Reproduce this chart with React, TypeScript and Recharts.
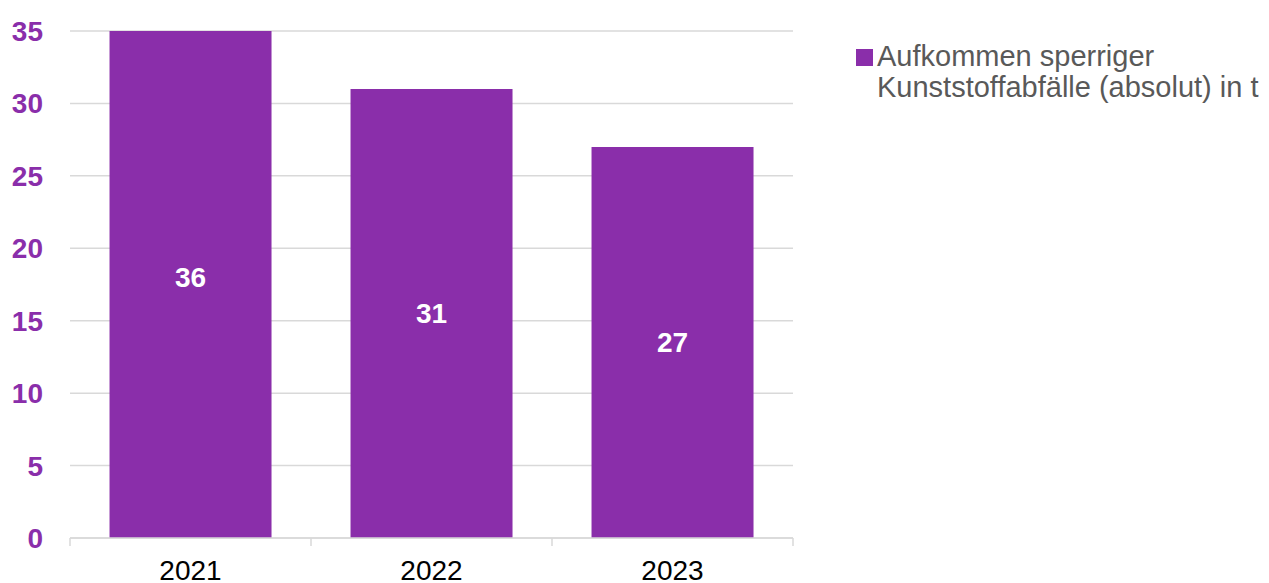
import React from 'react';
import { BarChart, Bar, XAxis, YAxis, CartesianGrid, LabelList } from 'recharts';

const categories = ['2021', '2022', '2023'];
const values = [36, 31, 27];
const yTicks = [0, 5, 10, 15, 20, 25, 30, 35];
const seriesName = 'Aufkommen sperriger Kunststoffabfälle (absolut) in t';
const legendLines = ['Aufkommen sperriger', 'Kunststoffabfälle (absolut) in t'];

const data = categories.map((year, i) => ({ year, value: values[i] }));

const PURPLE = '#8A2EAA';
const GRID = '#D9D9D9';
const FONT = '"Liberation Sans", Arial, sans-serif';
const TICK_MARGIN = 22;
const TICK_LEN = 8;

function XTick(props: any) {
  const { x, y, payload, index } = props;
  const half = payload && typeof payload.offset === 'number' ? payload.offset : 0;
  const axisY = y - TICK_MARGIN;
  return (
    <g>
      {half > 0 && (
        <line x1={x - half} x2={x - half} y1={axisY} y2={axisY + TICK_LEN} stroke={GRID} strokeWidth={1.5} />
      )}
      {half > 0 && index === categories.length - 1 && (
        <line x1={x + half} x2={x + half} y1={axisY} y2={axisY + TICK_LEN} stroke={GRID} strokeWidth={1.5} />
      )}
      <text x={x} y={y} dy="0.71em" textAnchor="middle" fill="#000" fontSize={28} fontFamily={FONT}>
        {payload.value}
      </text>
    </g>
  );
}

export default function App() {
  return (
    <div style={{ position: 'absolute', left: 0, top: 0, width: 1269, height: 583, background: '#fff', fontFamily: FONT }}>
      <BarChart
        width={1269}
        height={583}
        data={data}
        margin={{ top: 31, right: 476, left: 0, bottom: 0 }}
        barCategoryGap="16.4%"
      >
        <CartesianGrid horizontal vertical={false} stroke={GRID} strokeWidth={1.5} />
        <XAxis
          dataKey="year"
          tickLine={false}
          tickSize={0}
          tickMargin={TICK_MARGIN}
          height={45}
          axisLine={{ stroke: GRID, strokeWidth: 1.5 }}
          tick={<XTick />}
          interval={0}
        />
        <YAxis
          domain={[0, 35]}
          ticks={yTicks}
          allowDataOverflow
          width={70}
          axisLine={false}
          tickLine={false}
          tickSize={0}
          tickMargin={27}
          tick={{ fill: PURPLE, fontSize: 28, fontWeight: 'bold', fontFamily: FONT }}
        />
        <Bar dataKey="value" name={seriesName} fill={PURPLE} isAnimationActive={false}>
          <LabelList
            dataKey="value"
            position="center"
            fill="#fff"
            style={{ fontSize: 28, fontWeight: 'bold', fontFamily: FONT }}
          />
        </Bar>
      </BarChart>
      <div style={{ position: 'absolute', left: 856, top: 41.4, fontSize: 29, lineHeight: '31px', color: '#595959', fontFamily: FONT }}>
        <div style={{ position: 'absolute', left: 0, top: 7.7, width: 17, height: 17, background: PURPLE }} />
        <div style={{ position: 'absolute', left: 21, top: 0, whiteSpace: 'nowrap' }}>
          {legendLines.map((l) => (
            <div key={l}>{l}</div>
          ))}
        </div>
      </div>
    </div>
  );
}
